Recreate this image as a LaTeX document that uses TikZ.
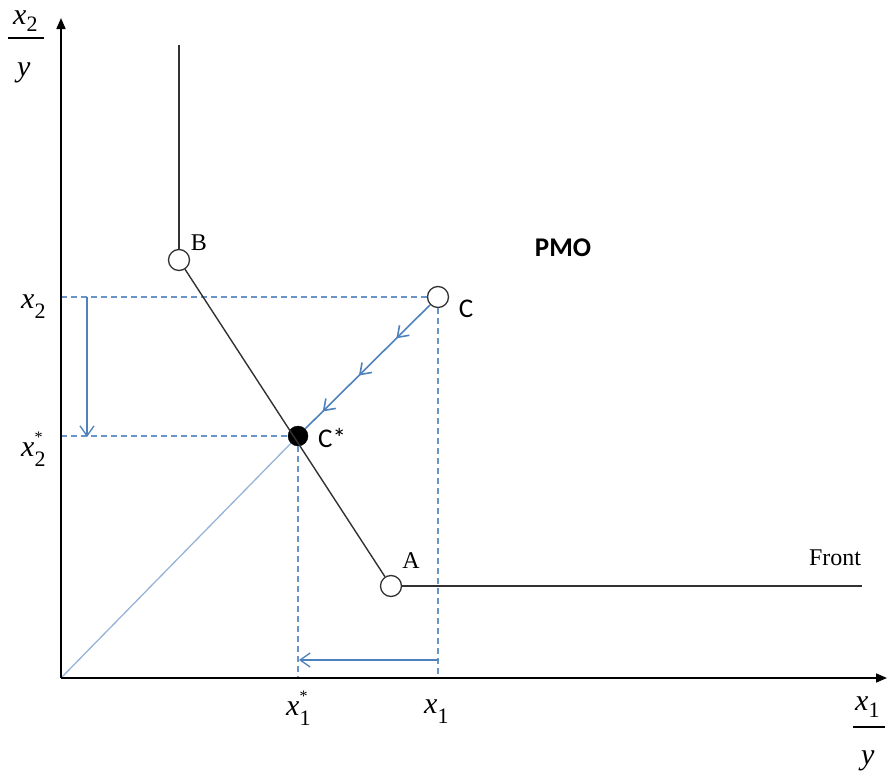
\documentclass[tikz,border=0pt]{standalone}
\usepackage{fontspec}
\setmainfont{Liberation Serif}
\newfontfamily\carlito{Carlito}
\usetikzlibrary{arrows.meta,decorations.markings}
\definecolor{pblue}{RGB}{79,129,189}
\definecolor{lblue}{RGB}{149,179,215}
\definecolor{dgray}{RGB}{50,50,50}
\newcommand{\vx}{\textit{x}}
\newcommand{\vsub}[1]{\raisebox{-10pt}{\fontsize{22}{22}\selectfont #1}}
\newcommand{\vsubf}[1]{\raisebox{-7pt}{\fontsize{22}{22}\selectfont #1}}
\newcommand{\vsubstar}[1]{\raisebox{-10pt}{\rlap{\fontsize{22}{22}\selectfont #1}}\raisebox{14pt}{\fontsize{16}{16}\selectfont *}}
\tikzset{
  openpt/.style={circle,draw=dgray,fill=white,line width=1.3pt,minimum size=21pt,inner sep=0pt},
  fillpt/.style={circle,draw=black,fill=black,minimum size=20pt,inner sep=0pt},
  axisline/.style={line width=1.6pt,-{Triangle[length=11pt,width=9pt]}},
  frontline/.style={draw=dgray,line width=1.4pt},
  guide/.style={draw=pblue!85,dash pattern=on 6pt off 4pt,line width=1.2pt},
  movearrow/.style={draw=pblue,line width=1.3pt,-{Straight Barb[length=10pt,width=14pt]}},
  fracrule/.style={line width=1.6pt},
  lbl/.style={font=\fontsize{24}{28}\selectfont,inner sep=0pt},
  slbl/.style={font=\carlito\fontsize{27}{30}\selectfont,inner sep=0pt},
  mlbl/.style={font=\fontsize{30}{34}\selectfont,inner sep=0pt,anchor=base west},
  midarrows/.style={decoration={markings,
     mark=at position 0.27 with {\arrow{Straight Barb[length=10pt,width=14pt]}},
     mark=at position 0.57 with {\arrow{Straight Barb[length=10pt,width=14pt]}},
     mark=at position 0.86 with {\arrow{Straight Barb[length=10pt,width=14pt]}}},postaction={decorate}}
}
\begin{document}
\begin{tikzpicture}[x=1pt,y=-1pt]
\useasboundingbox (0,0) rectangle (887,771);
% coordinates
\coordinate (O) at (61,678);
\coordinate (ytop) at (61,18);
\coordinate (xend) at (887,678);
\coordinate (Btop) at (179,45);
\coordinate (Fend) at (862,586);
% points
\node[openpt] (B) at (179,260) {};
\node[openpt] (C) at (438,297) {};
\node[fillpt] (Cs) at (298,436) {};
\node[openpt] (A) at (391,586) {};
% guides
\draw[guide] (O |- C) -- (C);
\draw[guide] (C) -- (C |- O);
\draw[guide] (O |- Cs) -- (Cs);
\draw[guide] (Cs) -- (Cs |- O);
% diagonal
\draw[draw=lblue,line width=1.3pt] (O) -- (Cs);
\draw[draw=pblue,line width=1.6pt,midarrows] (C) -- (Cs);
% front
\draw[frontline] (Btop) -- (B);
\draw[frontline] (B) -- (A);
\draw[frontline] (A) -- (Fend);
% move arrows
\coordinate (v1) at (87,297);
\coordinate (v2) at (87,437);
\coordinate (h1) at (438,660);
\coordinate (h2) at (299,660);
\draw[movearrow] (v1) -- (v2);
\draw[movearrow] (h1) -- (h2);
% axes
\draw[axisline] (O) -- (ytop);
\draw[axisline] (O) -- (xend);
% labels
\node[lbl] (lB) at (199,243) {B};
\node[lbl] (lA) at (411,561) {A};
\node[lbl] (lF) at (835,558) {Front};
\node[slbl] (lC) at (466,309) {C};
\node[slbl,anchor=west] (lCs) at (318,438) {C*};
\node[font=\carlito\bfseries\fontsize{27}{30}\selectfont,inner sep=0pt] (pmo) at (563,248) {PMO};
\node[mlbl] (lx2) at (21,308) {\vx\vsub{2}};
\node[mlbl] (lx2s) at (21,456) {\vx\vsubstar{2}};
\node[mlbl] (lx1s) at (286,715) {\vx\vsubstar{1}};
\node[mlbl] (lx1) at (424,713) {\vx\vsub{1}};
% axis fraction labels
\node[mlbl] (ynum) at (13,24) {\vx\vsubf{2}};
\node[mlbl] (yden) at (17,76) {\textit{y}};
\coordinate (yr1) at (8,38);
\coordinate (yr2) at (44,38);
\draw[fracrule] (yr1) -- (yr2);
\node[mlbl] (xnum) at (855,710) {\vx\vsubf{1}};
\node[mlbl] (xden) at (861,764) {\textit{y}};
\coordinate (xr1) at (853,727);
\coordinate (xr2) at (885,727);
\draw[fracrule] (xr1) -- (xr2);
\end{tikzpicture}
\end{document}
